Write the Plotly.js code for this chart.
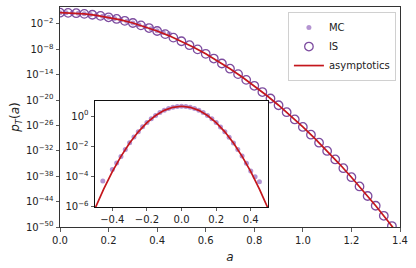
<!DOCTYPE html>
<html>
<head>
<meta charset="utf-8">
<script src="https://cdn.plot.ly/plotly-3.0.1.min.js"></script>
<style>html,body{margin:0;padding:0;background:#fff;}#chart{width:416px;height:268px;}</style>
</head>
<body>
<div id="chart"></div>
<script>
// asymptotic curve (log10 of p_T)
var asymA = [-0.50,-0.45,-0.40,-0.35,-0.30,-0.25,-0.20,-0.15,-0.10,-0.05,0.00,0.05,0.10,0.15,0.20,0.25,0.30,0.35,0.40,0.45,0.50,0.55,0.60,0.65,0.70,0.75,0.80,0.85,0.90,0.95,1.00,1.05,1.10,1.15,1.20,1.25,1.30,1.35,1.40];
var asymLog = [-6.10,-4.82,-3.67,-2.66,-1.78,-1.04,-0.43,0.04,0.38,0.58,0.65,0.58,0.38,0.04,-0.43,-1.04,-1.78,-2.66,-3.67,-4.82,-6.10,-7.52,-9.07,-10.76,-12.58,-14.54,-16.63,-18.86,-21.22,-23.72,-26.35,-29.12,-32.02,-35.06,-38.23,-41.54,-44.98,-48.56,-52.27];

// importance sampling points
var isA = [0.0000,0.0333,0.0667,0.1000,0.1333,0.1667,0.2000,0.2333,0.2667,0.3000,0.3333,0.3667,0.4000,0.4333,0.4667,0.5000,0.5333,0.5667,0.6000,0.6333,0.6667,0.7000,0.7333,0.7667,0.8000,0.8333,0.8667,0.9000,0.9333,0.9667,1.0000,1.0333,1.0667,1.1000,1.1333,1.1667,1.2000,1.2333,1.2667,1.3000,1.3333,1.3667];
var isLog = [0.65,0.62,0.53,0.38,0.17,-0.10,-0.43,-0.82,-1.27,-1.78,-2.35,-2.98,-3.67,-4.42,-5.23,-6.10,-7.03,-8.02,-9.07,-10.18,-11.35,-12.58,-13.87,-15.22,-16.63,-18.10,-19.63,-21.22,-22.87,-24.58,-26.35,-28.18,-30.07,-32.02,-34.03,-36.10,-38.23,-40.42,-42.67,-44.98,-47.35,-49.78];

// Monte Carlo points
var mcA = [-0.455,-0.400,-0.375,-0.350,-0.325,-0.300,-0.275,-0.250,-0.225,-0.200,-0.175,-0.150,-0.125,-0.100,-0.075,-0.050,-0.025,0.000,0.025,0.050,0.075,0.100,0.125,0.150,0.175,0.200,0.225,0.250,0.275,0.300,0.325,0.350,0.375,0.400,0.425,0.450];
var mcLog = [-4.29,-3.52,-3.10,-2.66,-2.20,-1.76,-1.38,-1.03,-0.71,-0.43,-0.18,0.04,0.23,0.38,0.50,0.58,0.63,0.65,0.63,0.58,0.50,0.38,0.23,0.04,-0.18,-0.43,-0.72,-1.04,-1.39,-1.78,-2.20,-2.64,-3.12,-3.62,-4.00,-4.33];

var yTickExp = [-50,-44,-38,-32,-26,-20,-14,-8,-2];
var insetYTickExp = [-6,-4,-2,0];
var insetXTicks = [-0.4,-0.2,0.0,0.2,0.4];
var insetXTickText = ['\u22120.4','\u22120.2','0.0','0.2','0.4'];

function pw(arr){ return arr.map(function(v){ return Math.pow(10, v); }); }
function expLabel(e){ return '10<sup>' + (e < 0 ? '\u2212' + (-e) : e) + '</sup>'; }

var purpleMC = 'rgba(148,103,189,0.7)';
var purpleIS = '#7d4c9f';
var red = '#c4161c';
var font = {family: 'DejaVu Sans', size: 10, color: '#222'};

var traces = [
  {x: mcA, y: pw(mcLog), type: 'scatter', mode: 'markers', name: 'MC', xaxis: 'x', yaxis: 'y',
   marker: {size: 5, color: purpleMC}},
  {x: isA, y: pw(isLog), type: 'scatter', mode: 'markers', name: 'IS', xaxis: 'x', yaxis: 'y',
   marker: {size: 8.5, color: 'rgba(0,0,0,0)', line: {color: purpleIS, width: 1.3}}},
  {x: asymA, y: pw(asymLog), type: 'scatter', mode: 'lines', name: 'asymptotics', xaxis: 'x', yaxis: 'y',
   line: {color: red, width: 1.7}},
  {x: mcA, y: pw(mcLog), type: 'scatter', mode: 'markers', name: 'MC', showlegend: false, xaxis: 'x2', yaxis: 'y2',
   marker: {size: 5, color: purpleMC}},
  {x: asymA, y: pw(asymLog), type: 'scatter', mode: 'lines', name: 'asymptotics', showlegend: false, xaxis: 'x2', yaxis: 'y2',
   line: {color: red, width: 1.7}}
];

var axisCommon = {showline: true, mirror: true, linecolor: '#333', linewidth: 1, ticks: 'outside', ticklen: 3.5,
  tickwidth: 0.8, tickcolor: '#333', showgrid: false, zeroline: false, tickfont: font};

var layout = {
  width: 416, height: 268,
  margin: {l: 60, r: 16, t: 7, b: 41},
  paper_bgcolor: '#fff', plot_bgcolor: '#fff',
  font: font,
  showlegend: true,
  legend: {x: 0.988, y: 0.977, xanchor: 'right', yanchor: 'top', bgcolor: 'rgba(255,255,255,0.85)',
    bordercolor: '#d0d0d0', borderwidth: 1, font: {family: 'DejaVu Sans', size: 10, color: '#222'}, tracegroupgap: 0},
  xaxis: Object.assign({}, axisCommon, {range: [0, 1.4], dtick: 0.2, tick0: 0, tickformat: '.1f',
    title: {text: '<i>a</i>', font: {family: 'DejaVu Sans', size: 12, color: '#222'}, standoff: 8}}),
  yaxis: Object.assign({}, axisCommon, {type: 'log', range: [-50, 2], tickmode: 'array',
    tickvals: yTickExp.map(function(e){ return Math.pow(10, e); }), ticktext: yTickExp.map(expLabel),
    title: {text: '<i>p<sub>T</sub></i>(<i>a</i>)', font: {family: 'DejaVu Sans', size: 12, color: '#222'}}}),
  xaxis2: Object.assign({}, axisCommon, {domain: [0.103, 0.612], anchor: 'y2', range: [-0.5, 0.5], tickmode: 'array',
    tickvals: insetXTicks, ticktext: insetXTickText, linecolor: '#111'}),
  yaxis2: Object.assign({}, axisCommon, {domain: [0.091, 0.573], anchor: 'x2', type: 'log', range: [-6, 1], tickmode: 'array',
    tickvals: insetYTickExp.map(function(e){ return Math.pow(10, e); }), ticktext: insetYTickExp.map(expLabel), linecolor: '#111'})
};

Plotly.newPlot('chart', traces, layout, {displayModeBar: false, staticPlot: true});
</script>
</body>
</html>
